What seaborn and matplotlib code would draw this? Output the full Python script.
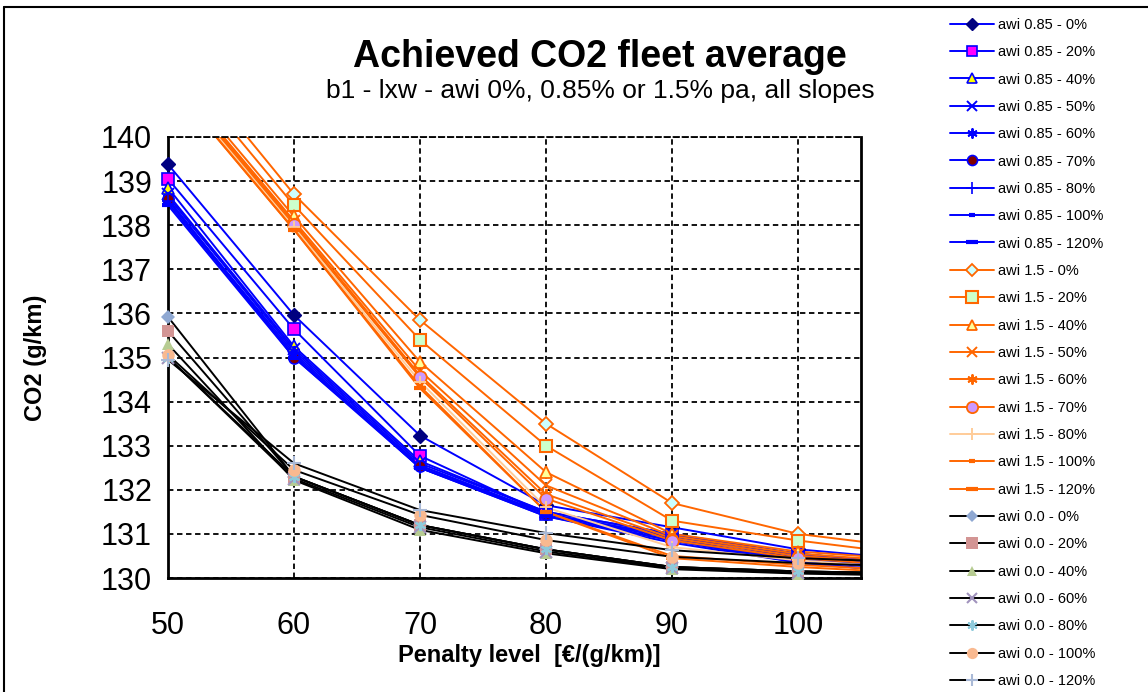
import matplotlib
matplotlib.use("Agg")
import matplotlib.pyplot as plt
from matplotlib.ticker import MultipleLocator
from matplotlib.lines import Line2D
import seaborn as sns

# penalty levels [EUR/(g/km)]
penalty = [50, 60, 70, 80, 90, 100, 110]

# awi 0.85% pa
slopes_085 = ["0%", "20%", "40%", "50%", "60%", "70%", "80%", "100%", "120%"]
co2_085 = [
    [139.38, 135.96, 133.23, 131.65, 131.15, 130.65, 130.40],
    [139.05, 135.64, 132.77, 131.45, 130.95, 130.55, 130.30],
    [138.85, 135.25, 132.65, 131.50, 131.00, 130.55, 130.30],
    [138.70, 135.20, 132.60, 131.50, 131.00, 130.50, 130.25],
    [138.65, 135.15, 132.55, 131.45, 130.95, 130.45, 130.20],
    [138.60, 135.00, 132.55, 131.45, 130.90, 130.40, 130.20],
    [138.55, 135.10, 132.50, 131.45, 130.85, 130.40, 130.15],
    [138.50, 135.05, 132.50, 131.40, 130.85, 130.35, 130.10],
    [138.45, 135.00, 132.50, 131.40, 130.80, 130.35, 130.10],
]

# awi 1.5% pa
slopes_15 = ["0%", "20%", "40%", "50%", "60%", "70%", "80%", "100%", "120%"]
co2_15 = [
    [142.20, 138.70, 135.85, 133.50, 131.70, 131.00, 130.65],
    [141.90, 138.45, 135.40, 133.00, 131.30, 130.85, 130.50],
    [141.60, 138.20, 134.90, 132.40, 131.00, 130.60, 130.40],
    [141.50, 138.10, 134.70, 132.10, 130.95, 130.55, 130.35],
    [141.45, 138.05, 134.60, 131.90, 130.90, 130.50, 130.30],
    [141.40, 138.00, 134.55, 131.80, 130.85, 130.45, 130.25],
    [141.35, 137.95, 134.45, 131.60, 130.70, 130.40, 130.20],
    [141.30, 137.90, 134.35, 131.50, 130.50, 130.30, 130.15],
    [141.30, 137.90, 134.30, 131.50, 130.45, 130.25, 130.10],
]

# awi 0.0% pa
slopes_00 = ["0%", "20%", "40%", "60%", "80%", "100%", "120%"]
co2_00 = [
    [135.92, 132.30, 131.20, 130.65, 130.25, 130.15, 130.10],
    [135.60, 132.30, 131.20, 130.65, 130.25, 130.15, 130.10],
    [135.30, 132.22, 131.09, 130.56, 130.20, 130.10, 130.05],
    [135.00, 132.25, 131.15, 130.60, 130.22, 130.12, 130.08],
    [135.00, 132.30, 131.20, 130.65, 130.25, 130.15, 130.10],
    [135.06, 132.45, 131.43, 130.86, 130.48, 130.34, 130.25],
    [134.95, 132.60, 131.54, 131.02, 130.63, 130.45, 130.35],
]

STAR = (6, 2, 0)

# (line colour, marker, face, edge, size, edge width) per series
style_085 = [
    ("#0000FF", "D", "#000080", "#000080", 7, 1.0),
    ("#0000FF", "s", "#FF00FF", "#0000FF", 8, 1.2),
    ("#0000FF", "^", "#FFFF00", "#0000FF", 8, 1.2),
    ("#0000FF", "x", "#0000FF", "#0000FF", 8, 1.4),
    ("#0000FF", STAR, "#0000FF", "#0000FF", 8, 1.4),
    ("#0000FF", "o", "#800000", "#0000FF", 8, 1.2),
    ("#0000FF", "+", "#0000FF", "#0000FF", 9, 1.2),
    ("#0000FF", "_", "#0000FF", "#0000FF", 5, 3.0),
    ("#0000FF", "_", "#0000FF", "#0000FF", 9, 3.0),
]
style_15 = [
    ("#FF6600", "D", "#CCFFFF", "#FF6600", 7, 1.3),
    ("#FF6600", "s", "#CCFFCC", "#FF6600", 9, 1.5),
    ("#FF6600", "^", "#FFFF99", "#FF6600", 8, 1.3),
    ("#FF6600", "x", "#FF6600", "#FF6600", 8, 1.4),
    ("#FF6600", STAR, "#FF6600", "#FF6600", 8, 1.4),
    ("#FF6600", "o", "#CC99FF", "#FF6600", 9, 1.3),
    ("#FFCC99", "+", "#FFCC99", "#FFCC99", 9, 1.4),
    ("#FF6600", "_", "#FF6600", "#FF6600", 5, 3.0),
    ("#FF6600", "_", "#FF6600", "#FF6600", 9, 3.0),
]
style_00 = [
    ("#000000", "D", "#8FA8D2", "#8FA8D2", 7, 0.0),
    ("#000000", "s", "#D39594", "#D39594", 9, 0.0),
    ("#000000", "^", "#B7CC92", "#B7CC92", 8, 0.0),
    ("#000000", "x", "#A193BD", "#A193BD", 8, 1.5),
    ("#000000", STAR, "#8ECADB", "#8ECADB", 8, 1.5),
    ("#000000", "o", "#F9B990", "#F9B990", 9, 0.0),
    ("#000000", "+", "#A9B9D6", "#A9B9D6", 10, 1.5),
]

sns.set_style("white")
plt.rcParams["font.family"] = ["Liberation Sans", "DejaVu Sans"]
plt.rcParams["text.color"] = "black"
plt.rcParams["axes.labelcolor"] = "black"
plt.rcParams["xtick.color"] = "black"
plt.rcParams["ytick.color"] = "black"

XMAX, YMIN, YMAX = 105, 130, 140

fig = plt.figure(figsize=(11.48, 6.92), dpi=100)
ax = fig.add_axes([168 / 1148, 1 - 578 / 692, 693 / 1148, 441 / 692])

groups = [("awi 0.85", slopes_085, co2_085, style_085),
          ("awi 1.5", slopes_15, co2_15, style_15),
          ("awi 0.0", slopes_00, co2_00, style_00)]

handles = []
for name, slopes, values, styles in groups:
    for slope, vals, (lc, mk, fc, ec, ms, mew) in zip(slopes, values, styles):
        label = f"{name} - {slope}"
        sns.lineplot(x=penalty, y=vals, ax=ax, color=lc, lw=1.4,
                     legend=False, sort=False)
        # markers inside the plotted range, not clipped at the axis edge
        px = [x for x, y in zip(penalty, vals) if x <= XMAX and y <= YMAX]
        py = [y for x, y in zip(penalty, vals) if x <= XMAX and y <= YMAX]
        ax.plot(px, py, linestyle="none", marker=mk, markersize=ms,
                markerfacecolor=fc, markeredgecolor=ec, markeredgewidth=mew,
                clip_on=False, zorder=3)
        handles.append(Line2D([0], [0], color=lc, lw=1.4, marker=mk, markersize=ms * 0.9,
                              markerfacecolor=fc, markeredgecolor=ec,
                              markeredgewidth=mew, label=label))

ax.set_xlim(50, XMAX)
ax.set_ylim(YMIN, YMAX)
ax.xaxis.set_major_locator(MultipleLocator(10))
ax.xaxis.set_minor_locator(MultipleLocator(1))
ax.yaxis.set_major_locator(MultipleLocator(1))

ax.grid(True, which="major", color="black", linestyle=(0, (3, 2)), lw=1.3)
for side in ["left", "bottom", "right"]:
    ax.spines[side].set_color("black")
    ax.spines[side].set_linewidth(2)
ax.spines["top"].set_color("black")
ax.spines["top"].set_linewidth(1.3)
ax.spines["top"].set_linestyle((0, (3, 2)))

ax.tick_params(axis="both", which="major", direction="inout", length=11, width=1.3,
               labelsize=22, color="black")
ax.tick_params(axis="x", which="major", pad=18)
ax.tick_params(axis="y", which="major", pad=6)
ax.tick_params(axis="x", which="minor", direction="in", length=5, width=1.1, color="black")
ax.tick_params(axis="y", which="minor", length=0)

ax.set_xlabel("Penalty level  [€/(g/km)]", fontsize=17, fontweight="bold")
ax.set_ylabel("CO2 (g/km)", fontsize=17, fontweight="bold")
ax.xaxis.set_label_coords(0.522, -0.15)
ax.yaxis.set_label_coords(-0.175, 0.5)

fig.text(600 / 1148, 1 - 57 / 692, "Achieved CO2 fleet average", ha="center", va="center",
         fontsize=27, fontweight="bold")
fig.text(600 / 1148, 1 - 91 / 692, "b1 - lxw - awi 0%, 0.85% or 1.5% pa, all slopes",
         ha="center", va="center", fontsize=19)

fig.legend(handles=handles, loc="upper left", bbox_to_anchor=(944 / 1148, 1 - 12 / 692),
           frameon=False, fontsize=10.5, handlelength=3.0, labelspacing=0.915,
           handletextpad=0.3, borderaxespad=0)

# outer chart-area border
fig.add_artist(Line2D([4 / 1148, 4 / 1148], [0, 1 - 7 / 692], color="black", lw=1.5,
                      transform=fig.transFigure))
fig.add_artist(Line2D([4 / 1148, 1], [1 - 7 / 692, 1 - 7 / 692], color="black", lw=1.5,
                      transform=fig.transFigure))

fig.savefig("out.png", dpi=100)
